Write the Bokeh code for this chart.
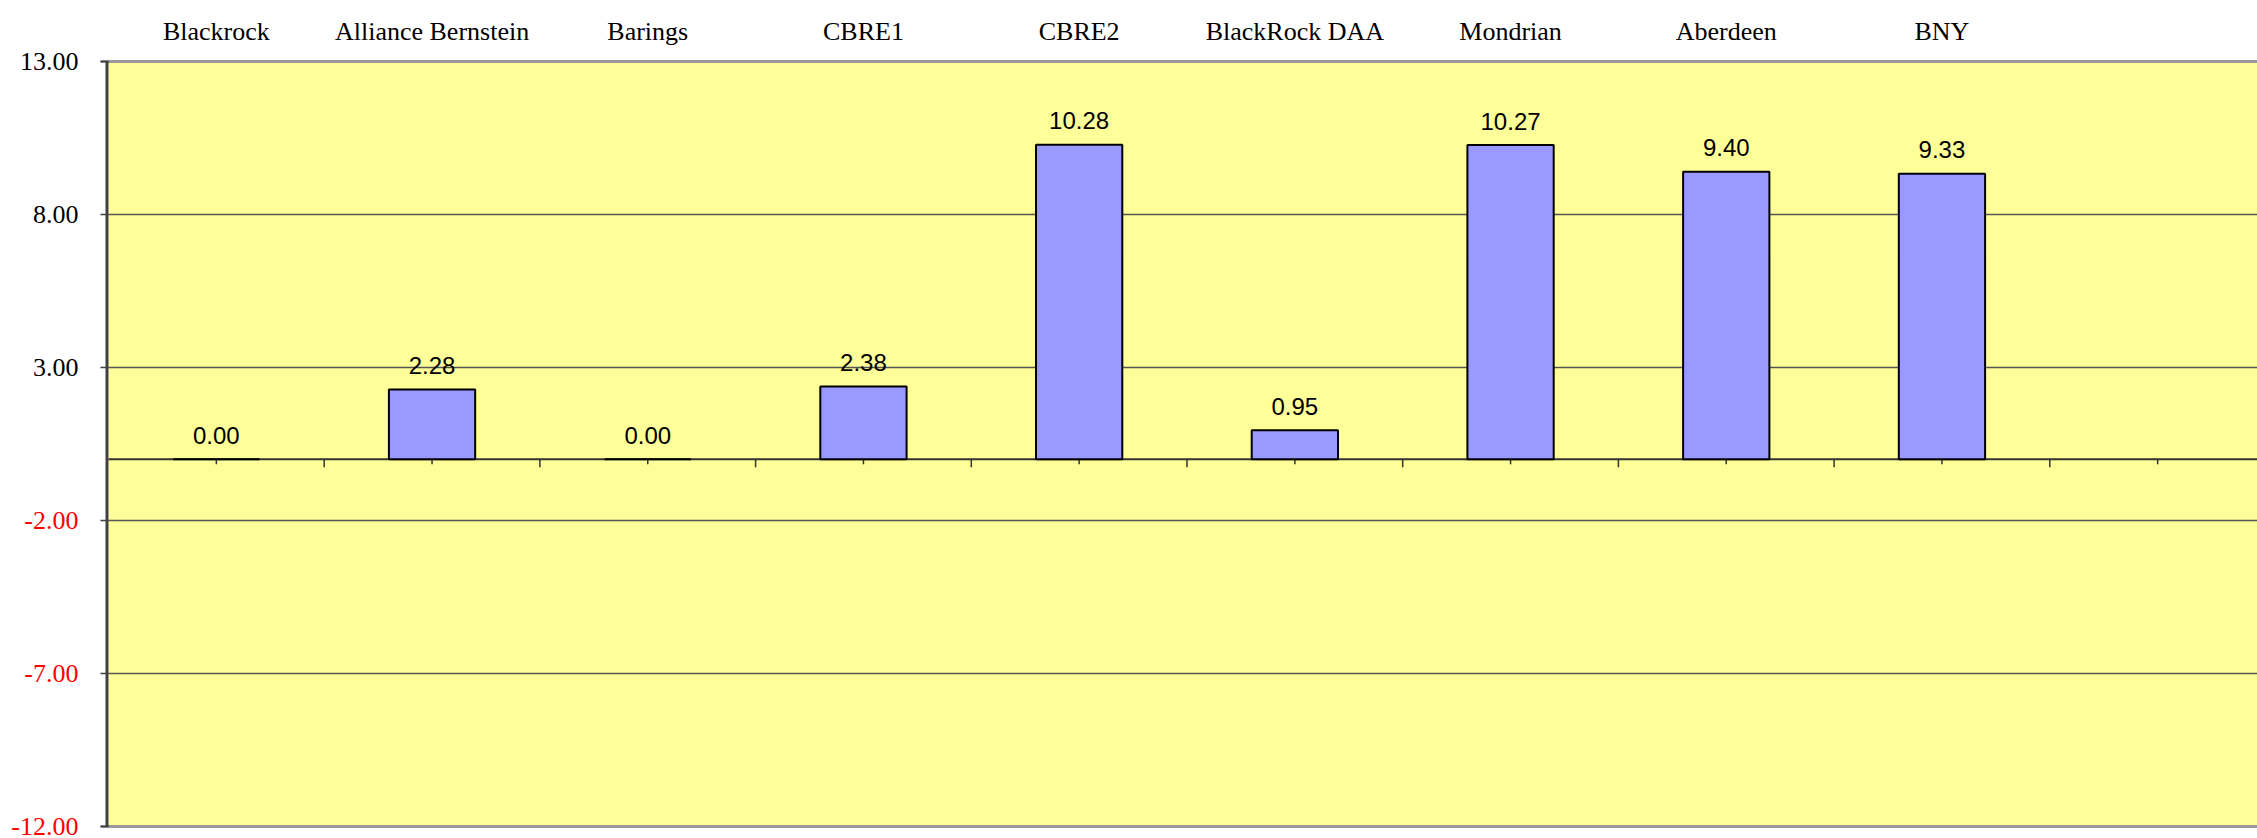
import numpy as np
from bokeh.plotting import figure
from bokeh.models import Range1d, BoxAnnotation
from bokeh.core.properties import value
from bokeh.embed import file_html
from bokeh.resources import INLINE

# ---- data ----
categories = ["Blackrock", "Alliance Bernstein", "Barings", "CBRE1", "CBRE2",
              "BlackRock DAA", "Mondrian", "Aberdeen", "BNY", ""]
values = [0.00, 2.28, 0.00, 2.38, 10.28, 0.95, 10.27, 9.40, 9.33, None]
y_ticks = [13, 8, 3, -2, -7, -12]
y_min, y_max = -12, 13

# ---- layout (pixels) ----
W, H = 2257, 838
LEFT, TOP, BOTTOM = 108, 61, 12
ppu = (H - TOP - BOTTOM) / (y_max - y_min)      # px per y unit
slot = 215.7                                     # px per category slot
n = len(categories)
pos = list(range(n))
x0 = -0.5                                        # left edge of plot area
x_end = x0 + (W - LEFT) / slot
px = lambda d: d / slot                          # px -> x data units

p = figure(width=W, height=H, output_backend="svg", toolbar_location=None,
           x_range=Range1d(x0 - px(LEFT), x_end),
           y_range=Range1d(y_min - BOTTOM / ppu, y_max + TOP / ppu),
           x_axis_location=None, y_axis_location=None,
           min_border=0, outline_line_color=None,
           background_fill_color="white", border_fill_color="white")
p.grid.visible = False

# plot area background
p.add_layout(BoxAnnotation(left=x0, right=x_end + 1, bottom=y_min, top=y_max,
                           fill_color="#FFFF99", fill_alpha=1.0,
                           line_color=None, level="underlay"))

# horizontal grid lines
inner = [t for t in y_ticks if y_min < t < y_max]
p.segment(x0=[x0] * len(inner), x1=[x_end] * len(inner), y0=inner, y1=inner,
          line_color="#555555", line_width=1.5)

# top / bottom borders
p.segment(x0=[x0 - px(8)] * 2, x1=[x_end] * 2, y0=[y_max, y_min], y1=[y_max, y_min],
          line_color="#999999", line_width=3)

# y ticks, axis line and labels
p.segment(x0=[x0 - px(8)] * len(y_ticks), x1=[x0] * len(y_ticks),
          y0=y_ticks, y1=y_ticks, line_color="#404040", line_width=1.5)
p.segment(x0=[x0 - px(1.5)], x1=[x0 - px(1.5)], y0=[y_min], y1=[y_max],
          line_color="#404040", line_width=3)
p.text(x=[x0 - px(30)] * len(y_ticks), y=y_ticks,
       text=[f"{t:.2f}" for t in y_ticks],
       text_color=["black" if t >= 0 else "#FF0000" for t in y_ticks],
       text_font=value("Liberation Serif"), text_font_size="26px",
       text_align="right", text_baseline="middle")

# category names on top
named = [(i, c) for i, c in zip(pos, categories) if c]
p.text(x=[i for i, _ in named], y=[y_max] * len(named), text=[c for _, c in named],
       text_font=value("Liberation Serif"), text_font_size="26px",
       text_align="center", text_baseline="alphabetic", y_offset=-30,
       text_color="black")

# zero (category) axis line and its ticks
p.segment(x0=[x0], x1=[x_end], y0=[0], y1=[0], line_color="#333333", line_width=2)
bounds = [i + 0.5 for i in pos]
p.segment(x0=bounds, x1=bounds, y0=[0] * n, y1=[-8 / ppu] * n,
          line_color="#333333", line_width=1.5)
p.segment(x0=pos, x1=pos, y0=[0] * n, y1=[-5 / ppu] * n,
          line_color="#333333", line_width=1.5)

# bars
bx = [i for i, v in zip(pos, values) if v is not None]
bv = [v for v in values if v is not None]
p.vbar(x=bx, top=bv, bottom=0, width=0.4, fill_color="#9999FF",
       line_color="black", line_width=2)

# value labels
p.text(x=bx, y=bv, text=[f"{v:.2f}" for v in bv],
       text_font=value("Liberation Sans"), text_font_size="24px",
       text_align="center", text_baseline="alphabetic", y_offset=-24,
       text_color="black")

open("out.html", "w").write(file_html(p, INLINE))
